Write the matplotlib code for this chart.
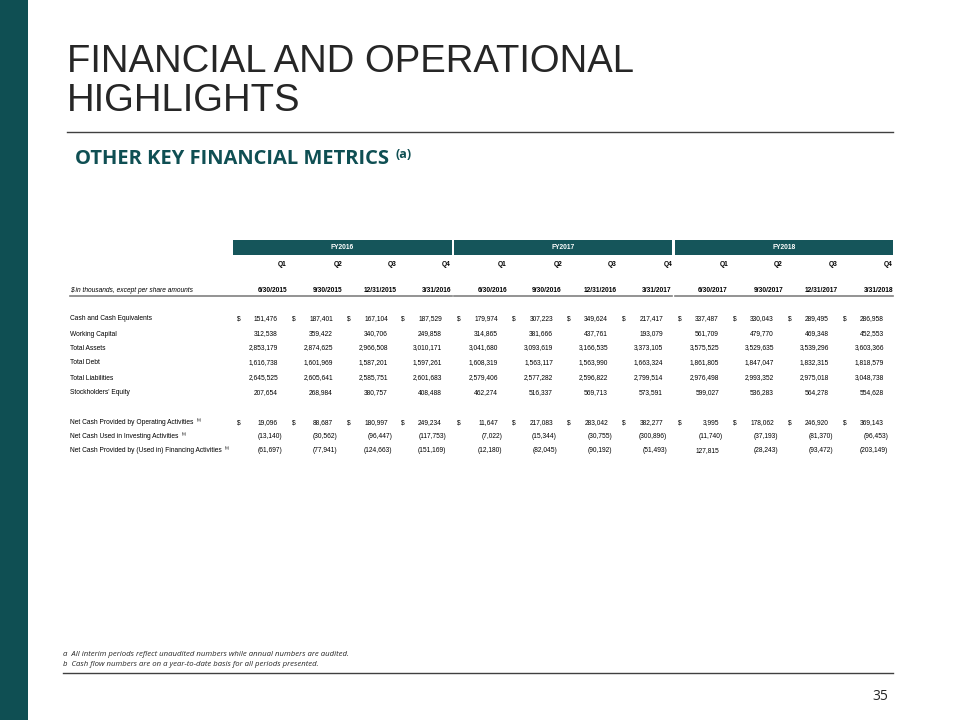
import matplotlib
matplotlib.use("Agg")
import matplotlib.pyplot as plt
from matplotlib.patches import Rectangle

# Data tabel (dalam ribuan dolar)
years = ["FY2016", "FY2017", "FY2018"]
quarters = ["Q1", "Q2", "Q3", "Q4"] * 3
dates = ["6/30/2015", "9/30/2015", "12/31/2015", "3/31/2016",
         "6/30/2016", "9/30/2016", "12/31/2016", "3/31/2017",
         "6/30/2017", "9/30/2017", "12/31/2017", "3/31/2018"]

cash = [151476, 187401, 167104, 187529, 179974, 307223, 349624, 217417, 337487, 330043, 289495, 286958]
working_capital = [312538, 359422, 340706, 249858, 314865, 381666, 437761, 193079, 561709, 479770, 469348, 452553]
total_assets = [2853179, 2874625, 2966508, 3010171, 3041680, 3093619, 3166535, 3373105, 3575525, 3529635, 3539296, 3603366]
total_debt = [1616738, 1601969, 1587201, 1597261, 1608319, 1563117, 1563990, 1663324, 1861805, 1847047, 1832315, 1818579]
total_liabilities = [2645525, 2605641, 2585751, 2601683, 2579406, 2577282, 2596822, 2799514, 2976498, 2993352, 2975018, 3048738]
equity = [207654, 268984, 380757, 408488, 462274, 516337, 569713, 573591, 599027, 536283, 564278, 554628]
cf_operating = [19096, 88687, 180997, 249234, 11647, 217083, 283042, 382277, 3995, 178062, 246920, 369143]
cf_investing = [-13140, -30562, -96447, -117753, -7022, -15344, -30755, -300896, -11740, -37193, -81370, -96453]
cf_financing = [-61697, -77941, -124663, -151169, -12180, -82045, -90192, -51493, 127815, -28243, -93472, -203149]

balance_rows = [
    ("Cash and Cash Equivalents", cash, True),
    ("Working Capital", working_capital, False),
    ("Total Assets", total_assets, False),
    ("Total Debt", total_debt, False),
    ("Total Liabilities", total_liabilities, False),
    ("Stockholders' Equity", equity, False),
]
cashflow_rows = [
    ("Net Cash Provided by Operating Activities", cf_operating, True),
    ("Net Cash Used in Investing Activities", cf_investing, False),
    ("Net Cash Provided by (Used in) Financing Activities", cf_financing, False),
]

TEAL = "#0f4f53"
HEAD = "#15555a"
TXT = "#262626"
TBL = ["Liberation Sans", "DejaVu Sans"]
FS = 4.8

fig = plt.figure(figsize=(9.6, 7.2), dpi=100)
ax = fig.add_axes([0, 0, 1, 1])
ax.set_xlim(0, 960)
ax.set_ylim(720, 0)
ax.axis('off')

# Batang kiri
ax.add_patch(Rectangle((0, 0), 28, 720, color=TEAL, lw=0))

# Judul
ax.text(67, 62, "FINANCIAL AND OPERATIONAL", fontsize=27.5, color=TXT,
        family=["Liberation Sans", "DejaVu Sans"], va='center', ha='left')
ax.text(67, 101, "HIGHLIGHTS", fontsize=27.5, color=TXT,
        family=["Liberation Sans", "DejaVu Sans"], va='center', ha='left')
ax.plot([67, 893], [132, 132], color="#404040", lw=1.0)

ax.text(75, 159, "OTHER KEY FINANCIAL METRICS", fontsize=14.5, color=TEAL,
        fontweight='bold', family=["Open Sans", "DejaVu Sans"], va='center', ha='left')
ax.text(396, 154, "(a)", fontsize=9, color=TEAL, fontweight='bold',
        family=["Open Sans", "DejaVu Sans"], va='center', ha='left')

# Posisi kolom (tepi kanan)
col_right = [287, 342, 397, 451, 507, 562, 617, 672, 728, 783, 838, 893]
groups = [(233, 452), (454, 672), (675, 893)]

for (x0, x1), yr in zip(groups, years):
    ax.add_patch(Rectangle((x0, 240), x1 - x0, 15, color=HEAD, lw=0))
    ax.text((x0 + x1) / 2, 247.5, yr, fontsize=FS, color='white', fontweight='bold',
            family=TBL, ha='center', va='center')

for x, q, d in zip(col_right, quarters, dates):
    ax.text(x, 265, q, fontsize=FS, color='black', fontweight='bold',
            family=TBL, ha='right', va='center')
    ax.text(x, 290, d, fontsize=FS, color='black', fontweight='bold',
            family=TBL, ha='right', va='center')

ax.text(70, 290, "$ in thousands, except per share amounts", fontsize=FS, color='black',
        style='italic', family=TBL, ha='left', va='center')
for (x0, x1), start in zip(groups, [70, 454, 675]):
    ax.plot([start, x1], [296, 296], color="#808080", lw=1.2)


def fmt(v):
    if v < 0:
        return "({:,})".format(-v)
    return "{:,}".format(v)


def draw_rows(rows, ys, sup=False):
    for (label, vals, dollar), y in zip(rows, ys):
        t = ax.text(70, y, label, fontsize=FS, color='black', family=TBL,
                    ha='left', va='center')
        if sup:
            fig.canvas.draw()
            bb = t.get_window_extent()
            xr = bb.x1 + 3
            ax.text(xr, y - 3, "(b)", fontsize=3.0, color='black', family=TBL,
                    ha='left', va='center')
        for x, v in zip(col_right, vals):
            if v < 0:
                ax.text(x - 5, y, fmt(v), fontsize=FS, color='black', family=TBL,
                        ha='right', va='center')
            else:
                ax.text(x - 9, y, fmt(v), fontsize=FS, color='black', family=TBL,
                        ha='right', va='center')
            if dollar:
                ax.text(x - 50, y, "$", fontsize=FS, color='black', family=TBL,
                        ha='left', va='center')


draw_rows(balance_rows, [319, 334, 348, 363, 378, 393])
draw_rows(cashflow_rows, [423, 437, 451], sup=True)

# Catatan kaki
ax.text(63, 655, "a  All interim periods reflect unaudited numbers while annual numbers are audited.",
        fontsize=5.6, style='italic', color=TXT, family=["Open Sans", "DejaVu Sans"],
        ha='left', va='center')
ax.text(63, 665, "b  Cash flow numbers are on a year-to-date basis for all periods presented.",
        fontsize=5.6, style='italic', color=TXT, family=["Open Sans", "DejaVu Sans"],
        ha='left', va='center')
ax.plot([63, 893], [673, 673], color="#404040", lw=1.0)

ax.text(880, 697, "35", fontsize=10, color=TXT, family=["Open Sans", "DejaVu Sans"],
        ha='center', va='center')

fig.savefig("out.png", dpi=100)
